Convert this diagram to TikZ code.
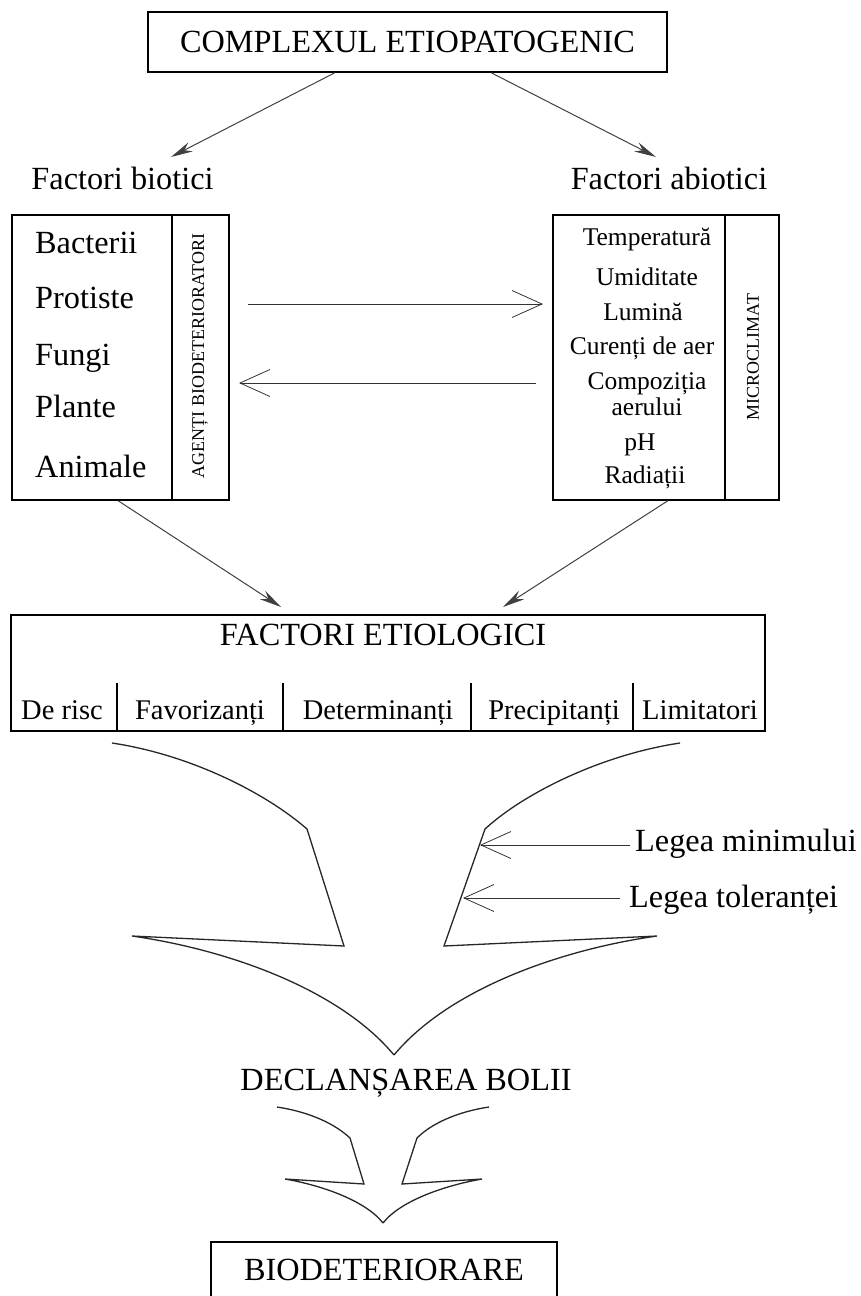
\documentclass[tikz,border=0pt]{standalone}
\usepackage{fontspec}
\setmainfont{Liberation Serif}
\usetikzlibrary{arrows.meta}
\newcommand\myfs[1]{\fontsize{#1}{#1}\selectfont}
\begin{document}
\begin{tikzpicture}[x=1pt,y=-1pt,
  box/.style={draw=black, line width=1.3pt, inner sep=0pt},
  divline/.style={draw=black, line width=1.3pt},
  txt/.style={inner sep=0pt, anchor=base},
  txtw/.style={inner sep=0pt, anchor=base west},
  big/.style={font=\myfs{32.3}},
  diag/.style={draw=black!75, line width=1pt, -{Stealth[length=22pt,width=10pt]}},
  barb/.style={draw=black!80, line width=1pt, -{Straight Barb[length=30pt,width=27pt,line width=0.8pt]}},
  outline/.style={draw=black!85, line width=1.3pt, line join=miter},
  vtxt/.style={inner sep=0pt, rotate=90, font=\myfs{18}}]
\useasboundingbox (0,0) rectangle (861,1296);

% top box
\node[box, minimum width=519pt, minimum height=60pt] (top) at (407.5,42) {};
\node[txt, big] (toptxt) at (407.5,52) {COMPLEXUL ETIOPATOGENIC};

% factor headings
\node[txt, big] (bio) at (122.5,189) {Factori biotici};
\node[txt, big] (abio) at (669,189) {Factori abiotici};
\coordinate (tipL) at (171,157);
\coordinate (tipR) at (656,157);
\draw[diag] ([xshift=-72.5pt]top.south) -- (tipL);
\draw[diag] ([xshift=83.5pt]top.south) -- (tipR);

% left box
\node[box, minimum width=217pt, minimum height=285pt] (lbox) at (120.5,357.5) {};
\draw[divline] (172,215) -- (172,500);
\node[txtw, big] (b1) at (35,253) {Bacterii};
\node[txtw, big] (b2) at (35,308) {Protiste};
\node[txtw, big] (b3) at (35,365) {Fungi};
\node[txtw, big] (b4) at (35,417) {Plante};
\node[txtw, big] (b5) at (35,477) {Animale};
\node[vtxt] (agenti) at (200,356) {AGENȚI BIODETERIORATORI};

% right box
\node[box, minimum width=226pt, minimum height=285pt] (rbox) at (666,357.5) {};
\draw[divline] (725,215) -- (725,500);
\node[txt, font=\myfs{25.5}] (a1) at (647,245) {Temperatură};
\node[txt, font=\myfs{25.5}] (a2) at (647,285) {Umiditate};
\node[txt, font=\myfs{25.5}] (a3) at (643,320) {Lumină};
\node[txt, font=\myfs{25.5}] (a4) at (642,354) {Curenți de aer};
\node[txt, font=\myfs{25.5}] (a5) at (647,389) {Compoziția};
\node[txt, font=\myfs{25.5}] (a6) at (647,415) {aerului};
\node[txt, font=\myfs{25.5}] (a7) at (640,450) {pH};
\node[txt, font=\myfs{25.5}] (a8) at (645,483) {Radiații};
\node[vtxt] (micro) at (753,357) {MICROCLIMAT};

% horizontal arrows
\coordinate (h1s) at (248,304);
\coordinate (h1e) at (543,304);
\coordinate (h2s) at (536,383);
\coordinate (h2e) at (239,383);
\draw[barb] (h1s) -- (h1e);
\draw[barb] (h2s) -- (h2e);

% factori etiologici
\node[box, minimum width=754pt, minimum height=116pt] (etio) at (388,673) {};
\node[txt, big] (etiotxt) at (383,645) {FACTORI ETIOLOGICI};
\foreach \xx in {117,283,471,633} \draw[divline] (\xx,683) -- (\xx,731);
\node[txt, font=\myfs{28.5}] (e1) at (62,719) {De risc};
\node[txt, font=\myfs{28.5}] (e2) at (200,719) {Favorizanți};
\node[txt, font=\myfs{28.5}] (e3) at (378,719) {Determinanți};
\node[txt, font=\myfs{28.5}] (e4) at (554,719) {Precipitanți};
\node[txt, font=\myfs{28.5}] (e5) at (700,719) {Limitatori};
\coordinate (tipE1) at (281,607);
\coordinate (tipE2) at (503,607);
\draw[diag] ([xshift=-2.5pt]lbox.south) -- (tipE1);
\draw[diag] ([xshift=2pt]rbox.south) -- (tipE2);

% big arrow shape
\draw[outline] (112,743) .. controls (192,755) and (267,794) .. (307,829) -- (344,946) -- (132,936) .. controls (230,950) and (340,990) .. (394,1055);
\draw[outline] (680,743) .. controls (600,755) and (523,794) .. (485,829) -- (444,946) -- (657,936) .. controls (558,950) and (448,990) .. (394,1055);

% laws
\node[txtw, big] (lmin) at (635,851) {Legea minimului};
\node[txtw, big] (ltol) at (629,907) {Legea toleranței};
\coordinate (lminTip) at (480,845);
\coordinate (ltolTip) at (463,898);
\draw[barb, shorten <=5pt] (lmin.west |- lminTip) -- (lminTip);
\draw[barb, shorten <=9pt] (ltol.west |- ltolTip) -- (ltolTip);

% declansarea
\node[txt, big] (decl) at (406,1090) {DECLANȘAREA BOLII};

% small arrow shape
\draw[outline] (277,1107) .. controls (310,1112) and (335,1124) .. (350,1138) -- (364,1184) -- (285,1179) .. controls (320,1185) and (365,1200) .. (383,1223);
\draw[outline] (489,1107) .. controls (456,1112) and (431,1124) .. (417,1138) -- (402,1184) -- (482,1179) .. controls (447,1185) and (401,1200) .. (383,1223);

% bottom box
\node[box, minimum width=346pt, minimum height=70pt] (bottom) at (384,1277) {};
\node[txt, big] (bottxt) at (384,1280) {BIODETERIORARE};
\end{tikzpicture}
\end{document}
